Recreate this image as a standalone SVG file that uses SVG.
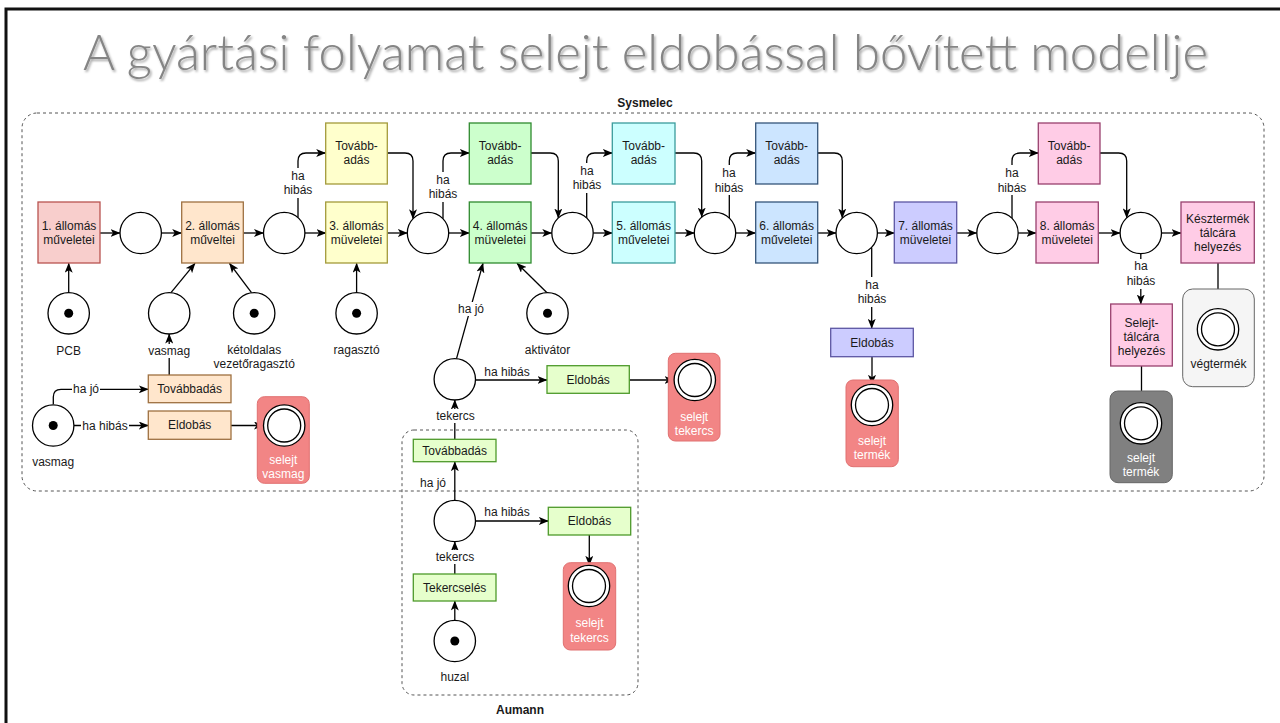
<svg xmlns="http://www.w3.org/2000/svg" width="1280" height="723" viewBox="0 0 1280 723">
  <defs>
    <marker id="arr" viewBox="0 0 10 8" refX="9.5" refY="4" markerWidth="10" markerHeight="8" markerUnits="userSpaceOnUse" orient="auto">
      <path d="M0,0 L10,4 L0,8 L2.5,4 Z" fill="#000"/>
    </marker>
    <filter id="shadow" x="-5%" y="-20%" width="110%" height="150%">
      <feDropShadow dx="1.5" dy="2" stdDeviation="1.2" flood-color="#000" flood-opacity="0.35"/>
    </filter>
  </defs>
  <style>
    text { font-family: "Liberation Sans", Arial, sans-serif; font-size: 12px; fill: #1a1a1a; text-anchor: middle; dominant-baseline: central; }
    .title { font-family: Lato, "Open Sans", "Liberation Sans", sans-serif; font-weight: 300; font-size: 49px; fill: #858585; text-anchor: start; dominant-baseline: auto; }
    .grp { font-weight: bold; font-size: 12px; }
    .wt { fill: #ffffff; }
    .place { fill: #fff; stroke: #000; stroke-width: 1.3; }
    .tok { fill: #000; }
    .cont { fill: none; stroke: #555; stroke-width: 1; stroke-dasharray: 3 3; }
    .bg { fill: #fff; }
    .edge { fill: none; stroke: #000; stroke-width: 1.3; marker-end: url(#arr); }
    .red { fill: #f8cecc; stroke: #b85450; stroke-width: 1.3; }
    .org { fill: #ffe6cc; stroke: #9e7040; stroke-width: 1.3; }
    .yel { fill: #ffffcc; stroke: #a39a3a; stroke-width: 1.3; }
    .grn { fill: #ccffcc; stroke: #2f8a2f; stroke-width: 1.3; }
    .lgrn { fill: #e6ffcc; stroke: #4d9a2a; stroke-width: 1.3; }
    .cyn { fill: #ccffff; stroke: #3a9c9c; stroke-width: 1.3; }
    .blu { fill: #cce5ff; stroke: #35557a; stroke-width: 1.3; }
    .pur { fill: #ccccff; stroke: #5c56a3; stroke-width: 1.3; }
    .pnk { fill: #ffcce6; stroke: #99406e; stroke-width: 1.3; }
    .sink { fill: #f28585; stroke: #e07070; stroke-width: 1; }
    .sinkg { fill: #808080; stroke: #666; stroke-width: 1; }
    .sinkw { fill: #f5f5f5; stroke: #666; stroke-width: 1; }
  </style>

  <rect width="1280" height="723" fill="#fff"/>
  <!-- slide frame -->
  <path d="M6,723 V9 H1280" fill="none" stroke="#111" stroke-width="3"/>

  <text class="title" x="83" y="70" textLength="1125" lengthAdjust="spacingAndGlyphs" filter="url(#shadow)">A gyártási folyamat selejt eldobással bővített modellje</text>

  <!-- swimlane containers -->
  <g id="sysmelec">
    <rect class="cont" x="22" y="113" width="1242" height="378" rx="15"/>
    <text class="grp" x="645" y="103">Sysmelec</text>
  </g>
  <g id="aumann">
    <rect class="cont" x="402" y="430" width="236" height="265" rx="12"/>
    <text class="grp" x="520" y="710">Aumann</text>
  </g>

  <!-- connectors -->
  <g id="connectors">
    <!-- main line -->
    <path class="edge" d="M100 233 H120"/>
    <path class="edge" d="M161.4 233 H181.7"/>
    <path class="edge" d="M243.3 233 H263.5"/>
    <path class="edge" d="M305 233 H326"/>
    <path class="edge" d="M387.3 233 H407.3"/>
    <path class="edge" d="M448.7 233 H469.3"/>
    <path class="edge" d="M531 233 H551.8"/>
    <path class="edge" d="M593.2 233 H612.3"/>
    <path class="edge" d="M675 233 H694.3"/>
    <path class="edge" d="M735.7 233 H755.7"/>
    <path class="edge" d="M817.7 233 H836"/>
    <path class="edge" d="M877.4 233 H894.3"/>
    <path class="edge" d="M956.7 233 H976.8"/>
    <path class="edge" d="M1018.2 233 H1036"/>
    <path class="edge" d="M1098.3 233 H1120.1"/>
    <path class="edge" d="M1161.5 233 H1181"/>

    <!-- bypass branches up -->
    <path class="edge" d="M298 217.6 V161 Q298 153 306 153 H325.7"/>
    <path class="edge" d="M443 218.7 V161 Q443 153 451 153 H469.3"/>
    <path class="edge" d="M586.7 218 V161 Q586.7 153 594.7 153 H612.3"/>
    <path class="edge" d="M729.3 218 V161 Q729.3 153 737.3 153 H755.7"/>
    <path class="edge" d="M1012 218.2 V161 Q1012 153 1020 153 H1038.3"/>

    <!-- bypass branches back down -->
    <path class="edge" d="M387.3 153 H405 Q413 153 413 161 V218.7"/>
    <path class="edge" d="M531 153 H550.3 Q558.3 153 558.3 161 V218"/>
    <path class="edge" d="M675 153 H693.7 Q701.7 153 701.7 161 V217.1"/>
    <path class="edge" d="M817.7 153 H834.3 Q842.3 153 842.3 161 V218.1"/>
    <path class="edge" d="M1100 153 H1118.7 Q1126.7 153 1126.7 161 V217.8"/>

    <!-- reject branches -->
    <path class="edge" d="M871.7 247.8 V328.3"/>
    <path class="edge" d="M1140.8 253.7 V304"/>
    <path class="edge" d="M872 356.7 V384.3"/>
    <path class="edge" d="M1141.5 366 V402.6"/>
    <path class="edge" d="M1218 263 V308.6"/>

    <!-- inputs -->
    <path class="edge" d="M68.7 292.6 V263.3"/>
    <path class="edge" d="M171 292.7 L195 263.3"/>
    <path class="edge" d="M251.5 292.7 L229.5 263.3"/>
    <path class="edge" d="M356.6 292.6 V263.3"/>
    <path class="edge" d="M547 292.7 L517 263.3"/>
    <path class="edge" d="M456.5 358.7 L483 263.3"/>

    <!-- core check -->
    <path class="edge" d="M169.2 375 V334"/>
    <path class="edge" d="M53.3 404.3 V397 Q53.3 389.3 61 389.3 H148.3"/>
    <path class="edge" d="M73.9 425.5 H148.3"/>
    <path class="edge" d="M231 425.5 H263.5"/>

    <!-- coil check -->
    <path class="edge" d="M475.5 380 H547"/>
    <path class="edge" d="M629.3 380 H674.1"/>
    <path class="edge" d="M454.8 439.3 V400"/>
    <path class="edge" d="M454.8 500.3 V461.7"/>
    <path class="edge" d="M475.5 521 H548.3"/>
    <path class="edge" d="M589.3 535 V565.3"/>
    <path class="edge" d="M454.8 574 V541.7"/>
    <path class="edge" d="M454.8 620.3 V601"/>

    <!-- edge labels -->
    <rect class="bg" x="284" y="168" width="28" height="30"/>
    <text x="298" y="176">ha</text><text x="298" y="190">hibás</text>
    <rect class="bg" x="429" y="172" width="28" height="30"/>
    <text x="443" y="180">ha</text><text x="443" y="194">hibás</text>
    <rect class="bg" x="573" y="163" width="28" height="30"/>
    <text x="587" y="171">ha</text><text x="587" y="185">hibás</text>
    <rect class="bg" x="715" y="165" width="28" height="30"/>
    <text x="729" y="173">ha</text><text x="729" y="188">hibás</text>
    <rect class="bg" x="998" y="165" width="28" height="30"/>
    <text x="1012" y="173">ha</text><text x="1012" y="188">hibás</text>
    <rect class="bg" x="858" y="277" width="28" height="30"/>
    <text x="872" y="285">ha</text><text x="872" y="299">hibás</text>
    <rect class="bg" x="1127" y="259" width="28" height="30"/>
    <text x="1141" y="266">ha</text><text x="1141" y="281">hibás</text>

    <rect class="bg" x="457" y="302" width="28" height="14"/>
    <text x="471" y="309">ha jó</text>
    <text x="507" y="372">ha hibás</text>
    <rect class="bg" x="72" y="382" width="28" height="14"/>
    <text x="86" y="389">ha jó</text>
    <rect class="bg" x="81" y="418" width="48" height="14"/>
    <text x="105" y="425.5">ha hibás</text>
    <text x="433" y="483">ha jó</text>
    <text x="507" y="512">ha hibás</text>
  </g>

  <!-- production stations -->
  <g id="st1"><rect class="red" x="38" y="202" width="62" height="61"/><text x="69" y="226">1. állomás</text><text x="69" y="240">műveletei</text></g>
  <g id="st2"><rect class="org" x="181.7" y="202" width="61.6" height="61"/><text x="212.5" y="226">2. állomás</text><text x="212.5" y="240">műveltei</text></g>
  <g id="st3"><rect class="yel" x="325.7" y="202" width="61.6" height="61"/><text x="356.5" y="226">3. állomás</text><text x="356.5" y="240">müveletei</text></g>
  <g id="st4"><rect class="grn" x="469.3" y="202" width="61.7" height="61"/><text x="500.2" y="226">4. állomás</text><text x="500.2" y="240">müveletei</text></g>
  <g id="st5"><rect class="cyn" x="612.3" y="202" width="62.7" height="61"/><text x="643.7" y="226">5. állomás</text><text x="643.7" y="240">műveletei</text></g>
  <g id="st6"><rect class="blu" x="755.7" y="202" width="62" height="61"/><text x="786.7" y="226">6. állomás</text><text x="786.7" y="240">műveletei</text></g>
  <g id="st7"><rect class="pur" x="894.3" y="202" width="62.4" height="61"/><text x="925.5" y="226">7. állomás</text><text x="925.5" y="240">müveletei</text></g>
  <g id="st8"><rect class="pnk" x="1036" y="202" width="62.3" height="61"/><text x="1067.2" y="226">8. állomás</text><text x="1067.2" y="240">müveletei</text></g>
  <g id="finish"><rect class="pnk" x="1181" y="202" width="73.3" height="61"/><text x="1217.7" y="219">Késztermék</text><text x="1217.7" y="233">tálcára</text><text x="1217.7" y="247">helyezés</text></g>

  <!-- bypass transitions -->
  <g id="pass3"><rect class="yel" x="325.7" y="123" width="61.6" height="61"/><text x="356.5" y="146">Tovább-</text><text x="356.5" y="160">adás</text></g>
  <g id="pass4"><rect class="grn" x="469.3" y="123" width="61.7" height="61"/><text x="500.2" y="146">Tovább-</text><text x="500.2" y="160">adás</text></g>
  <g id="pass5"><rect class="cyn" x="612.3" y="123" width="62.7" height="61"/><text x="643.7" y="146">Tovább-</text><text x="643.7" y="160">adás</text></g>
  <g id="pass6"><rect class="blu" x="755.7" y="123" width="62" height="61"/><text x="786.7" y="146">Tovább-</text><text x="786.7" y="160">adás</text></g>
  <g id="pass8"><rect class="pnk" x="1038.3" y="123" width="61.7" height="61"/><text x="1069.2" y="146">Tovább-</text><text x="1069.2" y="160">adás</text></g>

  <!-- buffer places on the main line -->
  <g id="p1"><circle class="place" cx="140.7" cy="233" r="20.7"/></g>
  <g id="p2"><circle class="place" cx="284.2" cy="233" r="20.7"/></g>
  <g id="p3"><circle class="place" cx="428" cy="233" r="20.7"/></g>
  <g id="p4"><circle class="place" cx="572.5" cy="233" r="20.7"/></g>
  <g id="p5"><circle class="place" cx="715" cy="233" r="20.7"/></g>
  <g id="p6"><circle class="place" cx="856.7" cy="233" r="20.7"/></g>
  <g id="p7"><circle class="place" cx="997.5" cy="233" r="20.7"/></g>
  <g id="p8"><circle class="place" cx="1140.8" cy="233" r="20.7"/></g>

  <!-- input places -->
  <g id="pcb"><circle class="place" cx="68.7" cy="313.3" r="20.7"/><circle class="tok" cx="68.7" cy="313.3" r="4.5"/><text x="68.7" y="351">PCB</text></g>
  <g id="vasmag-in"><circle class="place" cx="169.2" cy="313.3" r="20.7"/><rect class="bg" x="148" y="344" width="43" height="14"/><text x="169.2" y="351">vasmag</text></g>
  <g id="ragaszto2"><circle class="place" cx="254.2" cy="313.3" r="20.7"/><circle class="tok" cx="254.2" cy="313.3" r="4.5"/><text x="254.2" y="350">kétoldalas</text><text x="254.2" y="364">vezetőragasztó</text></g>
  <g id="ragaszto"><circle class="place" cx="356.6" cy="313.3" r="20.7"/><circle class="tok" cx="356.6" cy="313.3" r="4.5"/><text x="356.6" y="350">ragasztó</text></g>
  <g id="aktivator"><circle class="place" cx="547.5" cy="313.3" r="20.7"/><circle class="tok" cx="547.5" cy="313.3" r="4.5"/><text x="547.5" y="350">aktivátor</text></g>

  <!-- core check -->
  <g id="vasmag-src"><circle class="place" cx="53.2" cy="425.5" r="20.7"/><circle class="tok" cx="53.2" cy="425.5" r="4.5"/><text x="53.2" y="461.7">vasmag</text></g>
  <g id="vasmag-pass"><rect class="org" x="148.3" y="375" width="82.7" height="27.7"/><text x="189.7" y="389">Továbbadás</text></g>
  <g id="vasmag-drop"><rect class="org" x="148.3" y="411" width="82.7" height="28.3"/><text x="189.7" y="425.3">Eldobás</text></g>
  <g id="selejt-vasmag"><rect class="sink" x="257.3" y="396.7" width="52" height="86.6" rx="7"/><circle class="place" cx="284.2" cy="425.5" r="20.7"/><circle class="place" cx="284.2" cy="425.5" r="16.5"/><text class="wt" x="283.3" y="460">selejt</text><text class="wt" x="283.3" y="474">vasmag</text></g>

  <!-- coil check -->
  <g id="tekercs-in"><circle class="place" cx="454.8" cy="379.3" r="20.7"/><rect class="bg" x="433" y="409" width="45" height="14"/><text x="455.5" y="416">tekercs</text></g>
  <g id="tekercs-drop"><rect class="lgrn" x="547" y="365.7" width="82.3" height="27.6"/><text x="588.2" y="380">Eldobás</text></g>
  <g id="selejt-tekercs"><rect class="sink" x="668.3" y="353.3" width="51.7" height="87.7" rx="7"/><circle class="place" cx="694.8" cy="380" r="20.7"/><circle class="place" cx="694.8" cy="380" r="16.5"/><text class="wt" x="694.2" y="416.7">selejt</text><text class="wt" x="694.2" y="430.5">tekercs</text></g>

  <!-- Aumann winding cell -->
  <g id="a-pass"><rect class="lgrn" x="413.3" y="439.3" width="82.7" height="22.4"/><text x="454.7" y="450.5">Továbbadás</text></g>
  <g id="a-tekercs"><circle class="place" cx="454.8" cy="521" r="20.7"/><rect class="bg" x="433" y="550" width="45" height="14"/><text x="455" y="556.7">tekercs</text></g>
  <g id="a-drop"><rect class="lgrn" x="548.3" y="507.3" width="82.4" height="27.7"/><text x="589.5" y="521">Eldobás</text></g>
  <g id="a-selejt"><rect class="sink" x="563.3" y="562.7" width="52.4" height="87.3" rx="7"/><circle class="place" cx="589" cy="586" r="20.7"/><circle class="place" cx="589" cy="586" r="16.5"/><text class="wt" x="589.5" y="623.3">selejt</text><text class="wt" x="589.5" y="637.7">tekercs</text></g>
  <g id="a-wind"><rect class="lgrn" x="413.3" y="574" width="82.7" height="27"/><text x="454.7" y="587.5">Tekercselés</text></g>
  <g id="huzal"><circle class="place" cx="454.8" cy="641" r="20.7"/><circle class="tok" cx="454.8" cy="641" r="4.5"/><text x="454.8" y="677.3">huzal</text></g>

  <!-- end of line -->
  <g id="drop7"><rect class="pur" x="830.7" y="328.3" width="82.6" height="28.4"/><text x="872" y="342.5">Eldobás</text></g>
  <g id="selejt-termek1"><rect class="sink" x="846" y="380" width="52.3" height="86.7" rx="7"/><circle class="place" cx="872" cy="405" r="20.7"/><circle class="place" cx="872" cy="405" r="16.5"/><text class="wt" x="872" y="440.7">selejt</text><text class="wt" x="872" y="455">termék</text></g>
  <g id="reject-tray"><rect class="pnk" x="1110.7" y="304" width="61.6" height="62"/><text x="1141.5" y="322.7">Selejt-</text><text x="1141.5" y="337">tálcára</text><text x="1141.5" y="351">helyezés</text></g>
  <g id="selejt-termek2"><rect class="sinkg" x="1110" y="391" width="62.3" height="91.7" rx="8"/><circle class="place" cx="1141" cy="423.3" r="20.7"/><circle class="place" cx="1141" cy="423.3" r="16.5"/><text class="wt" x="1141" y="458">selejt</text><text class="wt" x="1141" y="472">termék</text></g>
  <g id="vegtermek"><rect class="sinkw" x="1182.7" y="289" width="71.6" height="97.7" rx="10"/><circle class="place" cx="1218" cy="329.3" r="20.7"/><circle class="place" cx="1218" cy="329.3" r="16.5"/><text x="1218.5" y="364">végtermék</text></g>
</svg>
